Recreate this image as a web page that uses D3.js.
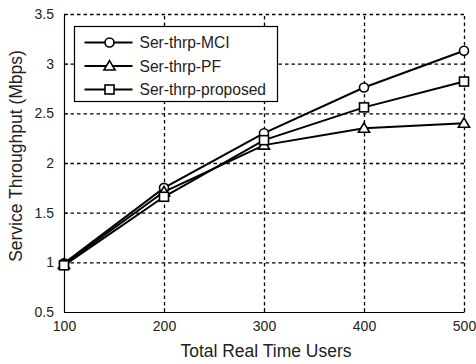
<!DOCTYPE html>
<html>
<head>
<meta charset="utf-8">
<script src="https://cdn.jsdelivr.net/npm/d3@7"></script>
<style>
  body { margin: 0; background: #fff; }
  text { font-family: "Liberation Sans", Arial, sans-serif; fill: #222; }
</style>
</head>
<body>
<div id="chart"></div>
<script>
// Data
const users = [100, 200, 300, 400, 500];
const mciValues = [0.99, 1.75, 2.30, 2.76, 3.13];
const pfValues = [0.98, 1.71, 2.18, 2.35, 2.40];
const proposedValues = [0.97, 1.66, 2.23, 2.56, 2.82];
const seriesNames = ["Ser-thrp-MCI", "Ser-thrp-PF", "Ser-thrp-proposed"];
const xTicks = [100, 200, 300, 400, 500];
const yTicks = [0.5, 1, 1.5, 2, 2.5, 3, 3.5];

const series = [
  { name: seriesNames[0], values: mciValues, marker: "circle" },
  { name: seriesNames[1], values: pfValues, marker: "triangle" },
  { name: seriesNames[2], values: proposedValues, marker: "square" },
];

// Dimensions
let dimensions = {
  width: 476,
  height: 364,
  left: 64,
  right: 12,
  top: 14,
  bottom: 52,
};
dimensions.ctrWidth = dimensions.width - dimensions.left - dimensions.right;
dimensions.ctrHeight = dimensions.height - dimensions.top - dimensions.bottom;

const svg = d3
  .select("#chart")
  .append("svg")
  .attr("width", dimensions.width)
  .attr("height", dimensions.height);

const ctr = svg
  .append("g")
  .attr("transform", `translate(${dimensions.left}, ${dimensions.top})`);

// Scales
const xScale = d3.scaleLinear().domain([100, 500]).range([0, dimensions.ctrWidth]);
const yScale = d3.scaleLinear().domain([0.5, 3.5]).range([dimensions.ctrHeight, 0]);

// grid via axes with long ticks
ctr.append("g")
  .attr("class", "grid")
  .attr("transform", `translate(0, ${dimensions.ctrHeight})`)
  .call(d3.axisBottom(xScale).tickValues(xTicks.slice(1)).tickSize(-dimensions.ctrHeight).tickFormat(""));
ctr.append("g")
  .attr("class", "grid")
  .call(d3.axisLeft(yScale).tickValues(yTicks.slice(1)).tickSize(-dimensions.ctrWidth).tickFormat(""));

ctr.selectAll(".grid .domain").remove();
ctr.selectAll(".grid .tick line")
  .attr("stroke", "#000")
  .attr("stroke-width", 1.3)
  .attr("stroke-dasharray", "3.5,3");

// Axes
const xAxis = d3.axisBottom(xScale).tickValues(xTicks).tickSizeInner(-4).tickSizeOuter(0).tickPadding(9);
const yAxis = d3.axisLeft(yScale).tickValues(yTicks).tickSizeInner(-4).tickSizeOuter(0).tickPadding(10)
  .tickFormat(d3.format("~g"));

const xAxisGroup = ctr.append("g")
  .attr("transform", `translate(0, ${dimensions.ctrHeight})`)
  .call(xAxis);
const yAxisGroup = ctr.append("g").call(yAxis);

[xAxisGroup, yAxisGroup].forEach((g) => {
  g.select(".domain").attr("stroke", "#000").attr("stroke-width", 1.2);
  g.selectAll(".tick line").attr("stroke", "#000");
  g.selectAll(".tick text")
    .attr("font-family", "Liberation Sans, Arial, sans-serif")
    .attr("font-size", 14)
    .attr("fill", "#222");
});

// axis labels
svg.append("text")
  .attr("x", dimensions.left + dimensions.ctrWidth / 2 + 2)
  .attr("y", 357)
  .attr("text-anchor", "middle")
  .attr("font-size", 17.5)
  .text("Total Real Time Users");

svg.append("text")
  .attr("transform", `translate(22, 156) rotate(-90)`)
  .attr("text-anchor", "middle")
  .attr("font-size", 17.5)
  .text("Service Throughput (Mbps)");

// markers
function drawMarker(g, type, size) {
  if (type === "circle") {
    g.append("circle").attr("r", size * 0.5);
  } else if (type === "triangle") {
    g.append("path").attr("d", `M0,${-size * 0.6}L${size * 0.62},${size * 0.45}L${-size * 0.62},${size * 0.45}Z`);
  } else {
    g.append("rect")
      .attr("x", -size / 2)
      .attr("y", -size / 2)
      .attr("width", size)
      .attr("height", size);
  }
  g.selectAll("*").attr("fill", "#fff").attr("stroke", "#000").attr("stroke-width", 1.6);
}

const line = d3
  .line()
  .x((d, i) => xScale(users[i]))
  .y((d) => yScale(d));

series.forEach((s) => {
  ctr.append("path")
    .datum(s.values)
    .attr("fill", "none")
    .attr("stroke", "#000")
    .attr("stroke-width", 2)
    .attr("d", line);
});

series.forEach((s) => {
  s.values.forEach((v, i) => {
    const g = ctr.append("g")
      .attr("transform", `translate(${xScale(users[i])}, ${yScale(v)})`);
    drawMarker(g, s.marker, 9);
  });
});

// Legend
const legend = svg.append("g").attr("transform", "translate(74.5, 26.5)");
legend.append("rect")
  .attr("width", 203)
  .attr("height", 75)
  .attr("fill", "#fff")
  .attr("stroke", "#000")
  .attr("stroke-width", 1.2);

series.forEach((s, i) => {
  const row = legend.append("g").attr("transform", `translate(0, ${16 + i * 23.5})`);
  row.append("line")
    .attr("x1", 10)
    .attr("x2", 58)
    .attr("stroke", "#000")
    .attr("stroke-width", 2);
  const m = row.append("g").attr("transform", "translate(35, 0)");
  drawMarker(m, s.marker, 9);
  row.append("text")
    .attr("x", 65)
    .attr("y", 5.5)
    .attr("font-size", 15.6)
    .text(s.name);
});
</script>
</body>
</html>
